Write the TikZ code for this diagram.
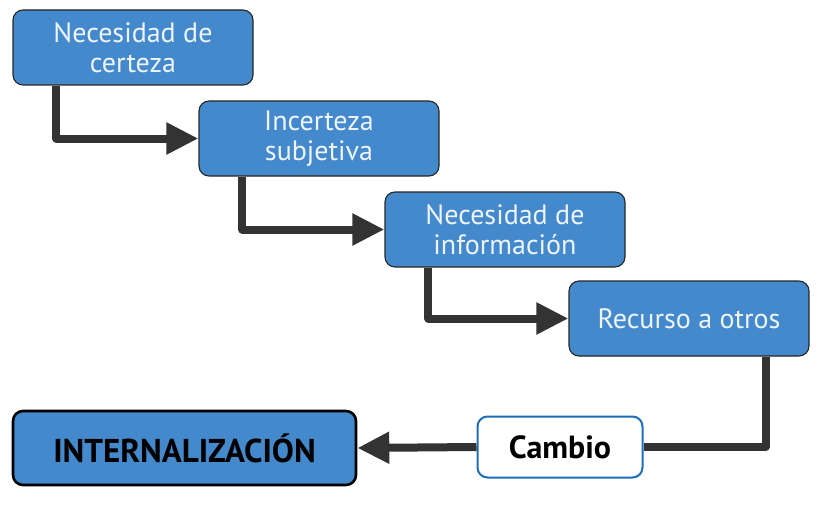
\documentclass[tikz,border=0pt]{standalone}
\usepackage{fontspec}
\setmainfont{PT Sans}
\usetikzlibrary{arrows.meta}
\definecolor{boxblue}{HTML}{4389CB}
\definecolor{boxtext}{HTML}{EEF4FB}
\definecolor{linegray}{HTML}{333333}
\definecolor{cambioblue}{HTML}{1C6EB8}
\tikzset{
  stepbox/.style={draw=black!85, line width=1.1pt, fill=boxblue, rounded corners=10pt,
    minimum width=240pt, minimum height=75pt, text=boxtext, align=center,
    font=\fontsize{28}{30}\selectfont, inner sep=0pt},
  cambiobox/.style={draw=cambioblue, line width=2pt, fill=white, rounded corners=10pt,
    minimum width=165pt, minimum height=61pt, font=\fontsize{32}{30}\selectfont\bfseries, inner sep=0pt},
  finalbox/.style={draw=black, line width=2.6pt, fill=boxblue, rounded corners=10pt,
    minimum width=343pt, minimum height=74pt, font=\fontsize{33}{30}\selectfont\bfseries, inner sep=0pt},
  conn/.style={draw=linegray, line width=8pt, line join=round},
  arr/.style={conn, -{Triangle[length=32pt,width=30pt]}}
}
\begin{document}
\begin{tikzpicture}[x=1pt,y=1pt]
\useasboundingbox (0,0) rectangle (821,-508);
\node[stepbox] (b1) at (133,-47.5) {Necesidad de\\certeza};
\node[stepbox] (b2) at (319,-138.5) {Incerteza\\subjetiva};
\node[stepbox] (b3) at (505,-229.5) {Necesidad de\\información};
\node[stepbox] (b4) at (689,-318.5) {Recurso a otros};
\node[cambiobox] (c) at (560,-447) {Cambio};
\node[finalbox] (f) at (184.5,-448) {INTERNALIZACIÓN};
\coordinate (s1) at ([xshift=44pt]b1.south west);
\coordinate (s2) at ([xshift=44pt]b2.south west);
\coordinate (s3) at ([xshift=44pt]b3.south west);
\coordinate (s4) at ([xshift=-44pt]b4.south east);
\draw[arr] (s1) |- (b2.west);
\draw[arr] (s2) |- (b3.west);
\draw[arr] (s3) |- (b4.west);
\draw[conn] (s4) |- (c.east);
\draw[arr] (c.west) -- (f.east);
\end{tikzpicture}
\end{document}
